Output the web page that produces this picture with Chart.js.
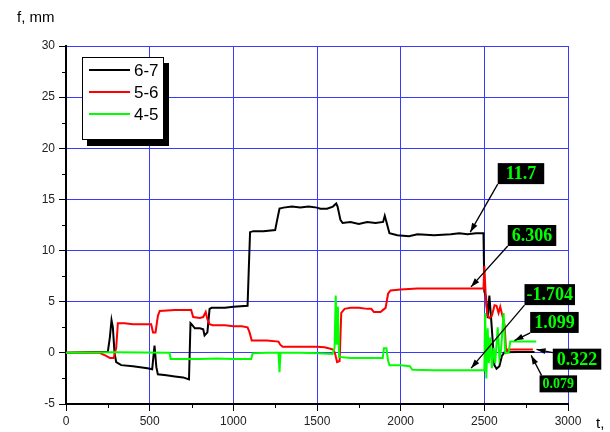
<!DOCTYPE html>
<html>
<head>
<meta charset="utf-8">
<script src="https://cdn.jsdelivr.net/npm/chart.js@4/dist/chart.umd.min.js"></script>
<style>
  html, body { margin: 0; padding: 0; background: #fff; }
  #wrap { width: 610px; height: 432px; position: relative; }
</style>
</head>
<body>
<div id="wrap"><canvas id="myChart"></canvas></div>
<script>
// series 6-7 (black)
const t67 = [0, 250, 262, 272, 280, 290, 300, 330, 400, 487, 515, 529, 540, 549, 600, 650, 700, 735, 744, 750, 770, 800, 820, 828, 845, 858, 870, 950, 1000, 1085, 1092, 1100, 1120, 1180, 1250, 1262, 1276, 1300, 1350, 1400, 1450, 1500, 1520, 1560, 1595, 1615, 1623, 1640, 1653, 1700, 1750, 1800, 1850, 1895, 1905, 1915, 1933, 1980, 2050, 2100, 2200, 2300, 2350, 2400, 2450, 2495, 2500, 2510, 2520, 2530, 2540, 2560, 2573, 2590, 2605, 2620, 2700, 2800];
const f67 = [0, 0.1, 1.5, 3.2, 2.5, 0, -0.9, -1.2, -1.3, -1.5, -1.6, 0.7, -1.4, -2.1, -2.2, -2.3, -2.4, -2.6, 2.9, 2.8, 2.4, 2.4, 2.3, 1.7, 2.0, 4.3, 4.4, 4.4, 4.5, 4.6, 8, 11.8, 11.9, 11.9, 12.0, 13, 14.1, 14.2, 14.3, 14.2, 14.3, 14.2, 14.1, 14.1, 14.3, 14.6, 14.3, 13.0, 12.7, 12.8, 12.6, 12.8, 12.7, 12.8, 13.4, 12.8, 11.7, 11.5, 11.4, 11.6, 11.5, 11.6, 11.7, 11.6, 11.7, 11.7, 6, 5.5, 3.4, 5.6, 3.5, -1.2, -1.55, -1.3, -0.3, 0.05, 0.08, 0.08];

// series 5-6 (red)
const t56 = [0, 200, 240, 262, 285, 300, 310, 350, 400, 450, 509, 520, 535, 549, 560, 650, 700, 748, 760, 800, 820, 835, 845, 858, 877, 950, 1000, 1050, 1085, 1097, 1110, 1200, 1270, 1280, 1295, 1400, 1500, 1545, 1580, 1600, 1610, 1620, 1635, 1645, 1665, 1700, 1750, 1800, 1824, 1840, 1880, 1895, 1910, 1925, 1940, 2000, 2100, 2200, 2300, 2400, 2495, 2500, 2510, 2519, 2530, 2545, 2561, 2573, 2585, 2595, 2610, 2621, 2630, 2640, 2700, 2790];
const f56 = [0, 0, -0.3, -0.5, -0.5, 0.5, 2.9, 2.9, 2.8, 2.8, 2.8, 2.0, 2.0, 3.6, 4.1, 4.2, 4.2, 4.2, 3.5, 3.4, 3.5, 4.0, 3.3, 2.8, 2.7, 2.7, 2.6, 2.6, 2.5, 2.0, 1.2, 1.2, 1.1, 0.8, 0.6, 0.6, 0.6, 0.55, 0.4, 0.3, -0.2, -0.9, -0.8, 3.9, 4.3, 4.4, 4.4, 4.3, 4.3, 4.0, 4.0, 4.2, 4.4, 5.8, 6.1, 6.2, 6.3, 6.3, 6.3, 6.3, 6.3, 8.5, 5.0, 3.7, 3.4, 3.6, 4.65, 4.6, 3.9, 4.5, 3.5, 2.7, 0.1, 0.32, 0.32, 0.32];

// series 4-5 (green)
const t45 = [0, 300, 619, 625, 700, 800, 900, 1000, 1107, 1115, 1200, 1270, 1276, 1282, 1300, 1400, 1500, 1593, 1605, 1612, 1618, 1625, 1632, 1700, 1800, 1893, 1900, 1915, 1925, 1933, 2000, 2055, 2070, 2200, 2300, 2400, 2500, 2505, 2512, 2520, 2527, 2535, 2545, 2555, 2565, 2580, 2590, 2600, 2615, 2625, 2645, 2655, 2665, 2810];
const f45 = [0, 0.05, 0, -0.6, -0.6, -0.6, -0.55, -0.6, -0.6, -0.05, 0, 0, -1.9, 0, 0, 0, -0.05, -0.1, 0.5, 5.6, 0.8, 4.5, -0.4, -0.5, -0.5, -0.5, 0.45, 0.45, -0.8, -1.2, -1.2, -1.3, -1.65, -1.7, -1.7, -1.7, -1.7, 3.9, -2.5, 2.4, -1.0, 1.5, -1.5, 0.5, -1.0, 2.5, -0.5, 0.3, 3.9, 0, 0, 1.1, 1.1, 1.1];

const seriesNames = ['6-7', '5-6', '4-5'];
const seriesColors = ['#000000', '#ff0000', '#00ff00'];

const xTicks = [0, 500, 1000, 1500, 2000, 2500, 3000];
const yTicks = [-5, 0, 5, 10, 15, 20, 25, 30];

// value labels: text, point it marks [t, f], box top-left [t, f]
const labelText = ['11.7', '6.306', '-1.704', '1.099', '0.322', '0.079'];
const labelTarget = [[2416, 11.8], [2420, 6.45], [2421, -1.5], [2680, 1.2], [2812, 0.34], [2780, -0.25]];
const labelBox = [[2580, 18.55], [2640, 12.5], [2740, 6.72], [2774, 4.0], [2909, 0.41], [2830, -2.2]];
const labelFrom = ['bl', 'bl', 'bl', 'bl', 'l', 'tl'];
const labelSize = [18, 18, 18, 18, 18, 14];
const labelPad = [8, 4, 2, 4, 4, 3];

function pts(ts, fs) { return ts.map((t, i) => ({ x: t, y: fs[i] })); }

const decor = {
  id: 'decor',
  beforeDraw(chart) {
    const c = chart.ctx;
    c.save();
    c.fillStyle = '#fff';
    c.fillRect(0, 0, chart.width, chart.height);
    c.restore();
  },
  afterDraw(chart) {
    const c = chart.ctx;
    const xs = chart.scales.x, ys = chart.scales.y;
    const a = chart.chartArea;
    c.save();
    // minor ticks
    c.strokeStyle = '#000';
    c.lineWidth = 1;
    for (let v = 250; v < 3000; v += 500) {
      const px = Math.round(xs.getPixelForValue(v)) + 0.5;
      c.beginPath(); c.moveTo(px, a.bottom); c.lineTo(px, a.bottom + 4); c.stroke();
    }
    for (let v = -2.5; v < 30; v += 5) {
      const py = Math.round(ys.getPixelForValue(v)) + 0.5;
      c.beginPath(); c.moveTo(a.left, py); c.lineTo(a.left - 4, py); c.stroke();
    }
    // axis titles
    c.fillStyle = '#000';
    c.font = '15px "Liberation Sans", Arial, sans-serif';
    c.textBaseline = 'alphabetic';
    c.textAlign = 'left';
    c.fillText('f, mm', 17, 22);
    c.fillText('t,', a.right + 28, a.bottom + 24);

    // legend with shadow
    const lx = a.left + 16, ly = a.top + 11, lw = 82, lh = 83;
    c.fillStyle = '#000';
    c.fillRect(lx + 5, ly + 6, lw, lh);
    c.fillStyle = '#fff';
    c.fillRect(lx, ly, lw, lh);
    c.strokeStyle = '#000';
    c.lineWidth = 1;
    c.strokeRect(lx + 0.5, ly + 0.5, lw - 1, lh - 1);
    c.font = '17px "Liberation Sans", Arial, sans-serif';
    c.textBaseline = 'middle';
    seriesNames.forEach((name, i) => {
      const yy = ly + 13 + i * 22;
      c.strokeStyle = seriesColors[i];
      c.lineWidth = 2;
      c.beginPath(); c.moveTo(lx + 7, yy); c.lineTo(lx + 48, yy); c.stroke();
      c.fillStyle = '#000';
      c.fillText(name, lx + 52, yy + 1);
    });

    // value labels with arrows
    labelText.forEach((txt, i) => {
      c.font = 'bold ' + labelSize[i] + 'px "Liberation Serif", "Times New Roman", serif';
      const tw = c.measureText(txt).width;
      const bx = xs.getPixelForValue(labelBox[i][0]);
      const by = ys.getPixelForValue(labelBox[i][1]);
      const bw = tw + labelPad[i] * 2, bh = labelSize[i] + 3;
      let sx = bx, sy = by + bh;
      if (labelFrom[i] === 'l') { sx = bx; sy = by + 4; }
      if (labelFrom[i] === 'tl') { sx = bx + 2; sy = by; }
      const ex = xs.getPixelForValue(labelTarget[i][0]);
      const ey = ys.getPixelForValue(labelTarget[i][1]);
      c.strokeStyle = '#000';
      c.fillStyle = '#000';
      c.lineWidth = 1.3;
      c.beginPath(); c.moveTo(sx, sy); c.lineTo(ex, ey); c.stroke();
      const ang = Math.atan2(ey - sy, ex - sx);
      c.beginPath();
      c.moveTo(ex, ey);
      c.lineTo(ex - 9 * Math.cos(ang) + 3 * Math.sin(ang), ey - 9 * Math.sin(ang) - 3 * Math.cos(ang));
      c.lineTo(ex - 9 * Math.cos(ang) - 3 * Math.sin(ang), ey - 9 * Math.sin(ang) + 3 * Math.cos(ang));
      c.closePath(); c.fill();
      c.fillRect(bx, by, bw, bh);
      c.fillStyle = '#00ff00';
      c.textAlign = 'left';
      c.textBaseline = 'middle';
      c.fillText(txt, bx + labelPad[i], by + bh / 2 + 1);
    });
    c.restore();
  }
};

Chart.defaults.font.family = '"Liberation Sans", Arial, sans-serif';
Chart.defaults.font.size = 12;

const ctx = document.getElementById('myChart').getContext('2d');
const myChart = new Chart(ctx, {
  type: 'line',
  data: {
    datasets: [
      { label: seriesNames[0], data: pts(t67, f67), borderColor: seriesColors[0], borderWidth: 2, order: 3 },
      { label: seriesNames[1], data: pts(t56, f56), borderColor: seriesColors[1], borderWidth: 2, order: 2 },
      { label: seriesNames[2], data: pts(t45, f45), borderColor: seriesColors[2], borderWidth: 2, order: 1 }
    ]
  },
  options: {
    responsive: true,
    maintainAspectRatio: false,
    animation: false,
    elements: { point: { radius: 0 }, line: { tension: 0, fill: false } },
    layout: { padding: { top: 46, right: 42, left: 0, bottom: 0 } },
    plugins: { legend: { display: false }, tooltip: { enabled: false } },
    scales: {
      x: {
        type: 'linear',
        min: 0, max: 3000,
        afterBuildTicks: s => { s.ticks = xTicks.map(v => ({ value: v })); },
        afterFit: s => { s.height = 28; },
        ticks: { color: '#222', padding: 3, maxRotation: 0, callback: v => String(v) },
        grid: { color: '#3a3aff', lineWidth: 1, tickColor: '#000', tickLength: 7 },
        border: { color: '#000', width: 2 }
      },
      y: {
        min: -5, max: 30,
        afterBuildTicks: s => { s.ticks = yTicks.map(v => ({ value: v })); },
        afterFit: s => { s.width = 66; },
        ticks: { color: '#222', padding: 4, callback: v => String(v) },
        grid: { color: '#3a3aff', lineWidth: 1, tickColor: '#000', tickLength: 7 },
        border: { color: '#000', width: 2 }
      }
    }
  },
  plugins: [decor]
});
</script>
</body>
</html>
